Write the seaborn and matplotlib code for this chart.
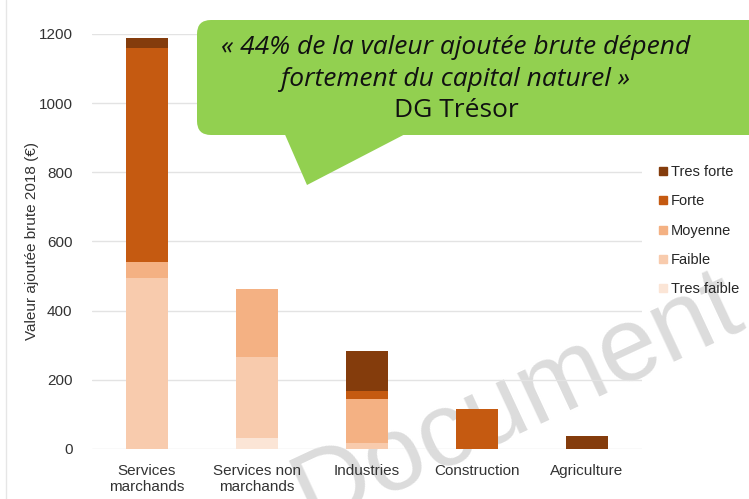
import numpy as np
import pandas as pd
import seaborn as sns
import matplotlib.pyplot as plt
from matplotlib.patches import FancyBboxPatch, Polygon
from matplotlib.lines import Line2D

categories = ["Services\nmarchands", "Services non\nmarchands", "Industries", "Construction", "Agriculture"]
tres_faible = [0, 31, 0, 0, 0]
faible = [494, 236, 18, 0, 0]
moyenne = [47, 197, 126, 0, 0]
forte = [619, 0, 24, 115, 0]
tres_forte = [28, 0, 116, 0, 38]

levels = ["Tres faible", "Faible", "Moyenne", "Forte", "Tres forte"]
colors = ["#FBE5D6", "#F8CBAD", "#F4B183", "#C55A11", "#843C0C"]

sns.set_style("white")
plt.rcParams['font.family'] = ['Liberation Sans', 'DejaVu Sans']

df = pd.DataFrame({"cat": categories, "Tres faible": tres_faible, "Faible": faible,
                   "Moyenne": moyenne, "Forte": forte, "Tres forte": tres_forte})
cum = df[levels].cumsum(axis=1)

fig = plt.figure(figsize=(7.49, 4.99), dpi=100)
ax = fig.add_axes([92 / 749, 50 / 499, 550 / 749, 415 / 499])

# stacked bars: draw cumulative totals from top level down
for lvl, col in reversed(list(zip(levels, colors))):
    sns.barplot(x=df["cat"], y=cum[lvl], color=col, saturation=1, width=0.39,
                errorbar=None, ax=ax, zorder=2, linewidth=0, edgecolor="none")

ax.set_xlim(-0.5, 4.5)
ax.set_ylim(0, 1200)
ax.set_yticks(range(0, 1201, 200))
ax.yaxis.grid(True, color="#E3E3E3", lw=1)
ax.set_axisbelow(True)
for s in ax.spines.values():
    s.set_visible(False)
ax.tick_params(axis="both", length=0, labelsize=11, colors="#333333")
ax.tick_params(axis="y", pad=14)
ax.tick_params(axis="x", pad=11)
ax.set_xlabel("")
ax.set_ylabel("Valeur ajoutée brute 2018 (€)", fontsize=11, color="#333333", labelpad=0)

# watermark, behind bars and tick labels
ax.text(517 / 749, 1 - 400 / 499, "Document", transform=fig.transFigure, ha="center", va="center",
        rotation=25, fontsize=76, color="#DCDCDC", zorder=0.4, clip_on=False)

handles = [Line2D([0], [0], marker="s", color="none", markerfacecolor=c, markeredgecolor=c,
                  markersize=6) for c in reversed(colors)]
fig.legend(handles, list(reversed(levels)), loc="upper left", bbox_to_anchor=(659 / 749, 1 - 165 / 499),
           frameon=False, fontsize=10.5, handlelength=0.6, handletextpad=0.2,
           labelspacing=1.05, borderpad=0, borderaxespad=0)

# overlay for the speech bubble
ov = fig.add_axes([0, 0, 1, 1])
ov.set_xlim(0, 749)
ov.set_ylim(499, 0)
ov.axis("off")
ov.add_patch(FancyBboxPatch((209, 32), 560, 91, boxstyle="round,pad=12,rounding_size=14",
                            fc="#92D050", ec="none"))
ov.add_patch(Polygon([(283, 130), (413, 130), (307, 185)], closed=True, fc="#92D050", ec="none"))
qfont = dict(ha="center", va="center", fontsize=19, family="Open Sans", color="#111111")
ov.text(456, 47, "« 44% de la valeur ajoutée brute dépend", style="italic", **qfont)
ov.text(456, 79, "fortement du capital naturel »", style="italic", **qfont)
ov.text(456, 110, "DG Trésor", **qfont)
ov.plot([6, 6], [0, 499], color="#E6E6E6", lw=1)

fig.savefig("out.png", dpi=100)
